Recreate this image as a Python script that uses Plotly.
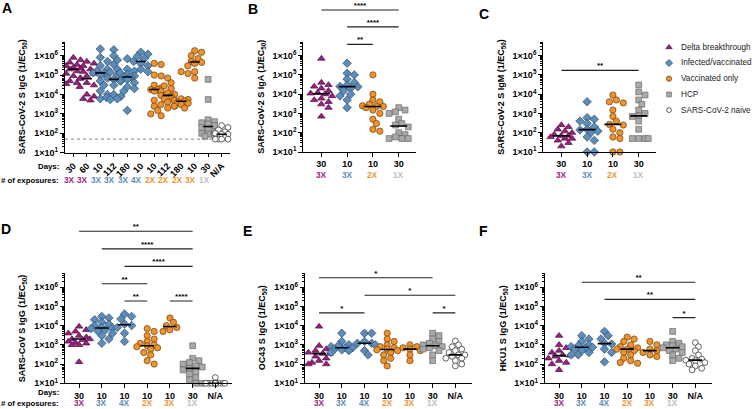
import numpy as np
import plotly.graph_objects as go

W, H = 754, 409
FONT = "Liberation Sans, Arial, Helvetica, sans-serif"

# ---------------- data ----------------
A_days = ["30", "60", "10", "112", "180", "10", "10", "112", "180", "10", "30", "N/A"]
A_exposures = ["3X", "3X", "3X", "3X", "3X", "4X", "2X", "2X", "2X", "3X", "1X", ""]
A_groups = ["delta", "delta", "inf", "inf", "inf", "inf", "vac", "vac", "vac", "vac", "hcp", "naive"]
A_values = [
    [8e5, 6e5, 4.5e5, 3.5e5, 3e5, 2.5e5, 2.2e5, 2e5, 1.6e5, 1.2e5, 9e4, 7e4, 5e4, 4e4, 3.5e4],
    [5e5, 4e5, 3e5, 2e5, 1.5e5, 1.2e5, 9e4, 6.5e4, 4e4, 3e4, 2.5e4, 1e4, 8e3, 6e3, 5e3],
    [2.2e6, 8e5, 5e5, 3e5, 2e5, 1.6e5, 1.3e5, 1.3e5, 1e5, 7e4, 5e4, 3e4, 1.5e4, 1e4, 6e3],
    [2e6, 1e6, 6e5, 3.5e5, 2e5, 1.4e5, 1e5, 6e4, 5e4, 3e4, 1e4, 8e3, 7e3, 6e3, 5.5e3],
    [7e5, 2e5, 1.6e5, 1.3e5, 1.1e5, 9e4, 8e4, 8e4, 6e4, 5e4, 4e4, 2.5e4, 2e4, 1.5e4, 1.5e3],
    [1.5e6, 1.2e6, 9e5, 7e5, 5e5, 4e5, 3e5, 2e5, 1.5e5],
    [4e5, 3.5e5, 1e5, 9e4, 3e4, 2.2e4, 1.8e4, 1.8e4, 1.5e4, 1.2e4, 5e3, 2.5e3, 1.5e3, 1e3, 8e2],
    [7e4, 4e4, 2.8e4, 2e4, 1.5e4, 1.2e4, 1e4, 9e3, 8e3, 6e3, 5e3, 4e3, 3e3, 2.5e3, 2e3],
    [1.5e5, 1.2e5, 6e3, 5.5e3, 5e3, 4.5e3, 4e3, 3.5e3, 3e3, 2.5e3, 2e3],
    [1.8e6, 1.5e6, 1e6, 7e5, 5e5, 4.5e5, 4e5, 3e5, 1.5e5, 7e4],
    [6e4, 5.5e3, 5e2, 4e2, 3.5e2, 3e2, 2.5e2, 2e2, 1.5e2, 1.2e2, 1e2, 9e1, 8e1, 7e1],
    [2.5e2, 2e2, 1.5e2, 1.2e2, 1e2, 9e1, 9e1, 6e1, 5e1, 5e1, 5e1, 5e1],
]
A_threshold = 50

BC_days = ["30", "10", "10", "30"]
BC_exposures = ["3X", "3X", "2X", "1X"]
BC_groups = ["delta", "inf", "vac", "hcp"]
B_values = [
    [7e5, 4e4, 3e4, 2.5e4, 2e4, 1.5e4, 1.2e4, 1.1e4, 1e4, 8e3, 6e3, 5e3, 4e3, 3e3, 2e3, 7e2],
    [4e5, 1.2e5, 1e5, 6e4, 4e4, 3e4, 2.5e4, 2.4e4, 2e4, 1.5e4, 1e4, 8e3, 5e3, 2e3],
    [1e5, 1e4, 5e3, 4e3, 3e3, 2.5e3, 2.3e3, 2.3e3, 2e3, 1.5e3, 1e3, 5e2, 3e2, 1.5e2, 1.2e2],
    [2e3, 1.5e3, 1.2e3, 1e3, 5e2, 3e2, 2.5e2, 2e2, 1e2, 8e1, 6e1, 5e1, 5e1, 5e1],
]
C_values = [
    [2.5e2, 2e2, 1.5e2, 1.2e2, 1e2, 8e1, 7e1, 7e1, 6e1, 5e1, 5e1, 4e1, 3e1, 2e1],
    [4e3, 6e2, 5e2, 4e2, 3e2, 2e2, 1.5e2, 1.4e2, 1.2e2, 1e2, 6e1, 4e1, 1e1, 1e1],
    [9e3, 5e3, 4e3, 3.5e3, 1.5e3, 7e2, 4e2, 2.7e2, 2.5e2, 1.5e2, 1e2, 6e1, 5e1, 1e1, 1e1],
    [3e4, 1.3e4, 9e3, 5e3, 3e3, 1.5e3, 1e3, 7.5e2, 7e2, 4e2, 1.5e2, 5e1, 5e1, 5e1, 5e1],
]

DEF_days = ["30", "10", "10", "10", "10", "30", "N/A"]
DEF_exposures = ["3X", "3X", "4X", "2X", "3X", "1X", ""]
DEF_groups = ["delta", "inf", "inf", "vac", "vac", "hcp", "naive"]
D_values = [
    [9e3, 6e3, 5e3, 4e3, 3e3, 2.5e3, 2e3, 2e3, 1.8e3, 1.5e3, 1.3e3, 1.2e3, 1e3, 1e3, 1.3e2],
    [3e4, 2.5e4, 2e4, 1.5e4, 1.2e4, 1e4, 8e3, 7.5e3, 7e3, 6e3, 5e3, 4e3, 3e3, 2e3, 1.2e3],
    [4e4, 3e4, 2.2e4, 1.2e4, 1e4, 8e3, 4e3, 1.5e3],
    [7e3, 5e3, 3e3, 2e3, 1.5e3, 1.2e3, 1e3, 9e2, 8e2, 7e2, 6e2, 4e2, 3e2, 1.5e2, 1e2],
    [2.5e4, 1.5e4, 1e4, 8e3, 6e3, 5e3],
    [9e2, 2e2, 1.5e2, 1.2e2, 1e2, 8e1, 7e1, 6e1, 5e1, 4e1, 3e1, 2e1, 1.5e1, 1e1, 1e1],
    [2e1, 1e1, 1e1, 1e1, 1e1, 1e1, 1e1, 1e1, 1e1, 1e1, 1e1, 1e1, 1e1, 1e1],
]
E_values = [
    [9e3, 9e2, 6e2, 5e2, 4e2, 3.5e2, 3.5e2, 2.5e2, 2e2, 1.5e2, 1.2e2, 1e2, 1e2],
    [4e3, 1.5e3, 1e3, 9e2, 8e2, 7e2, 7e2, 6e2, 5.5e2, 5e2, 4e2],
    [4e3, 4e3, 1.5e3, 1.2e3, 1.2e3, 1e3, 5e2, 3e2],
    [4e3, 2e3, 1.5e3, 1e3, 8e2, 7e2, 6e2, 5.5e2, 5e2, 4e2, 3e2, 2e2, 1.5e2, 8e1],
    [1e3, 8e2, 7e2, 6e2, 5e2, 3e2, 1.5e2],
    [4e3, 3e3, 2e3, 1.5e3, 1.2e3, 1e3, 9e2, 8e2, 7e2, 6e2, 5e2, 3e2, 1.5e2],
    [1.6e3, 1e3, 8e2, 6e2, 5e2, 4e2, 3e2, 3e2, 2.5e2, 2e2, 2e2, 1.5e2, 1e2, 8e1],
]
F_values = [
    [3e3, 1e3, 7e2, 5e2, 4e2, 3e2, 2.8e2, 2.5e2, 2e2, 1.5e2, 1.2e2, 1e2, 5e1],
    [3e3, 2e3, 1.5e3, 1e3, 9e2, 8e2, 7.5e2, 7e2, 6e2, 5e2, 4e2, 3e2, 3e2],
    [5e3, 3e3, 2e3, 1.2e3, 1.1e3, 6e2, 4e2, 1.3e2],
    [2.5e3, 2e3, 1.5e3, 1e3, 8e2, 7e2, 6e2, 6e2, 5e2, 4e2, 3e2, 2e2, 1.5e2, 1.2e2, 1.1e2],
    [1.5e3, 1e3, 6e2, 5e2, 4e2, 3e2, 2.5e2],
    [5e3, 1.5e3, 1.2e3, 1e3, 9e2, 8e2, 7e2, 6e2, 5e2, 4e2, 3e2, 2e2, 1.5e2],
    [1.3e3, 8e2, 5e2, 3e2, 2e2, 1.8e2, 1.6e2, 1.5e2, 1.2e2, 1e2, 8e1, 6e1, 5e1],
]

# significance comparisons: (group i, group j), label, bar height (data units)
B_sig_pairs = [(0, 3), (1, 3), (1, 2)]
B_sig_labels = ["****", "****", "**"]
B_sig_levels = [2.3e8, 3.1e7, 3.8e6]
C_sig_pairs = [(0, 3)]
C_sig_labels = ["**"]
C_sig_levels = [1.7e5]
D_sig_pairs = [(0, 5), (1, 5), (2, 5), (1, 3), (2, 3), (4, 5)]
D_sig_labels = ["**", "****", "****", "**", "**", "****"]
D_sig_levels = [8.1e8, 9.8e7, 1.2e7, 1.5e6, 1.9e5, 1.9e5]
E_sig_pairs = [(0, 5), (2, 6), (0, 2), (5, 6)]
E_sig_labels = ["*", "*", "*", "*"]
E_sig_levels = [3.1e6, 3.8e5, 4.6e4, 4.6e4]
F_sig_pairs = [(1, 6), (2, 6), (5, 6)]
F_sig_labels = ["**", "**", "*"]
F_sig_levels = [1.8e6, 2.3e5, 2.6e4]

legend_keys = ["delta", "inf", "vac", "hcp", "naive"]
legend_names = ["Delta breakthrough", "Infected/vaccinated", "Vaccinated only", "HCP",
                "SARS-CoV-2 naive"]

# ---------------- styles ----------------
FILL = {"delta": "#9B1E80", "inf": "#5C8DBA", "vac": "#EE932D", "hcp": "#A9A9A9", "naive": "#FFFFFF"}
EDGE = {"delta": "#4A0E3D", "inf": "#2C4A66", "vac": "#6B400F", "hcp": "#6A6A6A", "naive": "#222222"}
SYM = {"delta": "triangle-up", "inf": "diamond", "vac": "circle", "hcp": "square", "naive": "circle"}
SIZE = {"delta": 6.5, "inf": 6.5, "vac": 6.3, "hcp": 5.8, "naive": 5.8}
LABCOL = {"delta": "#9B1E80", "inf": "#5C8DBA", "vac": "#EE932D", "hcp": "#BDBDBD", "naive": "#000000"}

panels = [
    dict(letter="A", lpos=(7, 8), vals=A_values, days=A_days, exp=A_exposures, grp=A_groups,
         x0=65, x1=230, y0=41.7, y1=152.7, top=0, xr=(-0.62, 11.62), rot=True,
         title="SARS-CoV-2 S IgG (1/EC<sub>50</sub>)", tx=22, medw=0.38, maxk=2,
         exp_y=180, days_y=166, expshift=-4, sig=([], [], [])),
    dict(letter="B", lpos=(253, 9), vals=B_values, days=BC_days, exp=BC_exposures, grp=BC_groups,
         x0=303.3, x1=415.7, y0=41.7, y1=152.0, top=0, xr=(-0.7, 3.66), rot=False,
         title="SARS-CoV-2 S IgA (1/EC<sub>50</sub>)", tx=262, medw=0.33, maxk=3,
         exp_y=175, days_y=None, expshift=0, sig=(B_sig_pairs, B_sig_labels, B_sig_levels)),
    dict(letter="C", lpos=(484, 14), vals=C_values, days=BC_days, exp=BC_exposures, grp=BC_groups,
         x0=543.3, x1=655.7, y0=41.7, y1=152.0, top=0, xr=(-0.7, 3.66), rot=False,
         title="SARS-CoV-2 S IgM (1/EC<sub>50</sub>)", tx=502, medw=0.33, maxk=3,
         exp_y=175, days_y=None, expshift=0, sig=(C_sig_pairs, C_sig_labels, C_sig_levels)),
    dict(letter="D", lpos=(6, 229), vals=D_values, days=DEF_days, exp=DEF_exposures, grp=DEF_groups,
         x0=65, x1=231.7, y0=273.3, y1=383.3, top=215, xr=(-0.62, 6.72), rot=False,
         title="SARS-CoV S IgG (1/EC<sub>50</sub>)", tx=22, medw=0.3, maxk=3,
         exp_y=403.4, days_y=392.4, expshift=0, sig=(D_sig_pairs, D_sig_labels, D_sig_levels)),
    dict(letter="E", lpos=(247, 231), vals=E_values, days=DEF_days, exp=DEF_exposures, grp=DEF_groups,
         x0=305, x1=471.7, y0=273.3, y1=383.3, top=215, xr=(-0.62, 6.72), rot=False,
         title="OC43 S IgG (1/EC<sub>50</sub>)", tx=262, medw=0.3, maxk=3,
         exp_y=403.4, days_y=None, expshift=0, sig=(E_sig_pairs, E_sig_labels, E_sig_levels)),
    dict(letter="F", lpos=(484, 231), vals=F_values, days=DEF_days, exp=DEF_exposures, grp=DEF_groups,
         x0=545, x1=711.7, y0=273.3, y1=383.3, top=215, xr=(-0.62, 6.72), rot=False,
         title="HKU1 S IgG (1/EC<sub>50</sub>)", tx=503, medw=0.3, maxk=3,
         exp_y=403.4, days_y=None, expshift=0, sig=(F_sig_pairs, F_sig_labels, F_sig_levels)),
]


def swarm(vals, dec_px, sp_px, d, maxk):
    ys = np.log10(np.asarray(vals, float)) * dec_px
    order = np.argsort(-ys, kind="stable")
    step = d * 0.55
    cands = [0.0]
    for m in range(1, maxk + 1):
        cands += [m * step, -m * step]
    placed = []
    offs = np.zeros(len(ys))
    for i in order:
        best, best_score = 0.0, -1.0
        for c in cands:
            if not placed:
                best = c
                break
            dmin = min(np.hypot(c - px, ys[i] - py) for px, py in placed)
            if dmin >= d * 0.85:
                best = c
                break
            if dmin > best_score:
                best_score, best = dmin, c
        placed.append((best, ys[i]))
        offs[i] = best
    return offs / sp_px


def fx(px):
    return px / W


def fy(py):
    return 1 - py / H


fig = go.Figure()
layout = {}
annotations = []
major = [10 ** e for e in range(1, 7)]
minor = [k * 10 ** e for e in range(1, 7) for k in range(2, 10)]
axis_font = dict(family=FONT, size=9, color="black", weight="bold")
label_font = dict(family=FONT, size=7.8, color="black", weight="bold")

for idx, P in enumerate(panels):
    k = idx + 1
    ko = idx + 7
    xa = "x" if k == 1 else f"x{k}"
    ya = "y" if k == 1 else f"y{k}"
    xo, yo = f"x{ko}", f"y{ko}"
    n = len(P["vals"])
    dec_px = (P["y1"] - P["y0"]) / 5.72
    ytop = 1 + (P["y1"] - P["y0"]) / dec_px
    sp_px = (P["x1"] - P["x0"]) / (P["xr"][1] - P["xr"][0])

    layout["xaxis" if k == 1 else f"xaxis{k}"] = dict(
        domain=[fx(P["x0"]), fx(P["x1"])], range=list(P["xr"]), anchor=ya, automargin=False,
        tickmode="array", tickvals=list(range(n)), ticktext=P["days"],
        tickangle=-45 if P["rot"] else 0, ticks="outside", ticklen=3.5, tickwidth=1,
        tickcolor="black", showline=True, linewidth=1.2, linecolor="black",
        showgrid=False, zeroline=False, tickfont=axis_font, fixedrange=True)
    layout["yaxis" if k == 1 else f"yaxis{k}"] = dict(
        type="log", domain=[fy(P["y1"]), fy(P["y0"])], range=[1, ytop], anchor=xa,
        automargin=False, tickmode="array", tickvals=major,
        ticktext=[f"1×10<sup>{e}</sup>" for e in range(1, 7)],
        ticks="outside", ticklen=4, tickwidth=1, tickcolor="black",
        showline=True, linewidth=1.2, linecolor="black", showgrid=False, zeroline=False,
        tickfont=axis_font, fixedrange=True,
        minor=dict(tickmode="array", tickvals=minor, ticks="outside", ticklen=2,
                   tickwidth=0.8, tickcolor="black", showgrid=False))
    # overlay axes for significance brackets (same scale, extended upward)
    layout[f"xaxis{ko}"] = dict(domain=[fx(P["x0"]), fx(P["x1"])], range=list(P["xr"]),
                                anchor=yo, visible=False, fixedrange=True, automargin=False)
    layout[f"yaxis{ko}"] = dict(type="log", domain=[fy(P["y1"]), fy(P["top"])],
                                range=[1, 1 + (P["y1"] - P["top"]) / dec_px],
                                anchor=xo, visible=False, fixedrange=True, automargin=False)

    # threshold line (panel A)
    if P["letter"] == "A":
        fig.add_trace(go.Scatter(x=[P["xr"][0], P["xr"][1]], y=[A_threshold, A_threshold],
                                 mode="lines", line=dict(color="#9a9a9a", width=1.3, dash="dot"),
                                 xaxis=xa, yaxis=ya, showlegend=False, hoverinfo="skip"))

    # points
    for i, (v, g) in enumerate(zip(P["vals"], P["grp"])):
        offs = swarm(v, dec_px, sp_px, SIZE[g], P["maxk"])
        fig.add_trace(go.Scatter(
            x=i + offs, y=v, mode="markers", xaxis=xa, yaxis=ya, cliponaxis=False,
            marker=dict(symbol=SYM[g], size=SIZE[g], color=FILL[g],
                        line=dict(color=EDGE[g], width=0.7)),
            showlegend=False, hoverinfo="skip"))

    # medians
    mx, my = [], []
    for i, v in enumerate(P["vals"]):
        m = float(np.median(v))
        mx += [i - P["medw"], i + P["medw"], None]
        my += [m, m, None]
    fig.add_trace(go.Scatter(x=mx, y=my, mode="lines", line=dict(color="black", width=1.6),
                             xaxis=xa, yaxis=ya, showlegend=False, hoverinfo="skip"))

    # significance brackets
    pairs, labels, levels = P["sig"]
    bx, by, tx_, ty_, tt = [], [], [], [], []
    for (a, b), lab, lev in zip(pairs, labels, levels):
        bx += [a, b, None]
        by += [lev, lev, None]
        tx_.append((a + b) / 2)
        ty_.append(lev)
        tt.append(lab)
    if pairs:
        fig.add_trace(go.Scatter(x=bx, y=by, mode="lines", line=dict(color="#222222", width=1.1),
                                 xaxis=xo, yaxis=yo, showlegend=False, hoverinfo="skip"))
        fig.add_trace(go.Scatter(x=tx_, y=ty_, mode="text", text=tt, textposition="top center",
                                 textfont=dict(family=FONT, size=8, color="black", weight="bold"),
                                 xaxis=xo, yaxis=yo, showlegend=False, hoverinfo="skip",
                                 cliponaxis=False))

    # exposure labels
    for i, (e, g) in enumerate(zip(P["exp"], P["grp"])):
        if not e:
            continue
        annotations.append(dict(x=i, xref=xa, y=fy(P["exp_y"]), yref="paper", text=e,
                                showarrow=False, xanchor="center", yanchor="middle",
                                xshift=P["expshift"],
                                font=dict(family=FONT, size=8.3, color=LABCOL[g], weight="bold")))
    if P["days_y"] is not None:
        annotations.append(dict(x=fx(61), xref="paper", y=fy(P["days_y"]), yref="paper",
                                text="Days:", showarrow=False, xanchor="right", yanchor="middle",
                                font=label_font))
        annotations.append(dict(x=fx(61), xref="paper", y=fy(P["exp_y"]), yref="paper",
                                text="# of exposures:", showarrow=False, xanchor="right",
                                yanchor="middle", font=label_font))
    # y title
    annotations.append(dict(x=fx(P["tx"]), xref="paper", y=fy((P["y0"] + P["y1"]) / 2),
                            yref="paper", text=P["title"], textangle=-90, showarrow=False,
                            xanchor="center", yanchor="middle",
                            font=dict(family=FONT, size=9, color="black", weight="bold")))
    # panel letter
    annotations.append(dict(x=fx(P["lpos"][0]), xref="paper", y=fy(P["lpos"][1]), yref="paper",
                            text=P["letter"], showarrow=False, xanchor="center", yanchor="middle",
                            font=dict(family=FONT, size=14, color="black", weight="bold")))

# ---- legend (drawn in a hidden full-figure axis so rows can be spaced as in the figure) ----
LEG_X, LEG_TEXT_X, LEG_TOP, LEG_STEP = 669, 679, 47.3, 15.7
layout["xaxis13"] = dict(domain=[0, 1], range=[0, 1], visible=False, anchor="y13",
                         fixedrange=True, automargin=False)
layout["yaxis13"] = dict(domain=[0, 1], range=[0, 1], visible=False, anchor="x13",
                         fixedrange=True, automargin=False)
for r, g in enumerate(legend_keys):
    yy = fy(LEG_TOP + r * LEG_STEP)
    fig.add_trace(go.Scatter(x=[fx(LEG_X)], y=[yy], mode="markers", xaxis="x13", yaxis="y13",
                             marker=dict(symbol=SYM[g], size=SIZE[g] - 1, color=FILL[g],
                                         line=dict(color=EDGE[g], width=0.7)),
                             name=legend_names[r], showlegend=False, hoverinfo="skip",
                             cliponaxis=False))
    annotations.append(dict(x=fx(LEG_TEXT_X), xref="paper", y=yy, yref="paper",
                            text=legend_names[r], showarrow=False, xanchor="left",
                            yanchor="middle", font=dict(family=FONT, size=8.2, color="#222222")))

fig.update_layout(
    width=W, height=H, margin=dict(l=0, r=0, t=0, b=0, autoexpand=False),
    paper_bgcolor="white", plot_bgcolor="rgba(0,0,0,0)",
    font=dict(family=FONT, color="black"),
    annotations=annotations, showlegend=False,
    **layout,
)

fig.write_html("out.html", config={"displayModeBar": False},
               post_script="document.body.style.margin='0px';document.body.style.overflow='hidden';")
